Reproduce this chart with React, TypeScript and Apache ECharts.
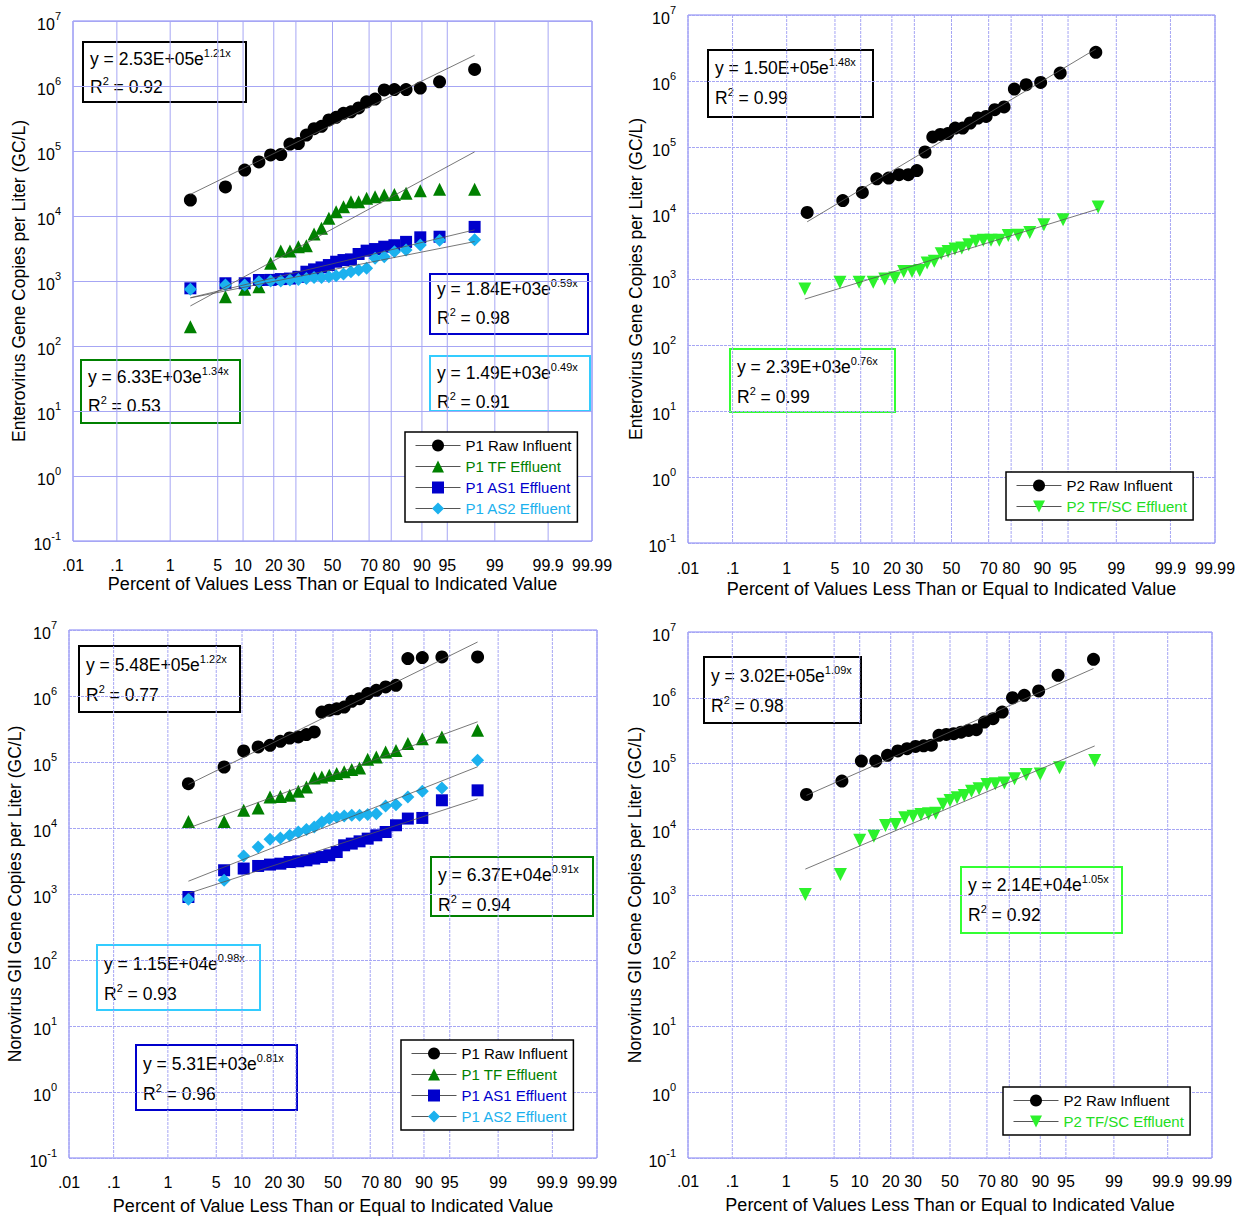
import React, { useEffect, useRef } from 'react';
import * as echarts from 'echarts';

const FONT = '"Liberation Sans", Arial, Helvetica, sans-serif';

// ---------- axis ticks ----------
const PCT_LABELS = ['.01', '.1', '1', '5', '10', '20', '30', '50', '70', '80', '90', '95', '99', '99.9', '99.99'];
const PCT_VALUES = [0.01, 0.1, 1, 5, 10, 20, 30, 50, 70, 80, 90, 95, 99, 99.9, 99.99];

// ---------- data (sorted concentrations, GC/L) ----------
// Enterovirus, plant P1
const tlRaw = [1.76e4, 2.8e4, 5.1e4, 6.8e4, 8.7e4, 8.8e4, 1.28e5, 1.3e5, 1.76e5, 2.2e5, 2.4e5, 3.0e5, 3.3e5, 3.8e5, 4.0e5, 4.6e5, 5.7e5, 6.3e5, 8.7e5, 8.8e5, 8.8e5, 9.3e5, 1.16e6, 1.8e6];
const tlTF = [198, 574, 745, 818, 1870, 2900, 2900, 3370, 3500, 5300, 6500, 9200, 11600, 13900, 16600, 16600, 18700, 19800, 21000, 21500, 22300, 24500, 25700, 25700];
const tlAS1 = [772, 923, 923, 1036, 1040, 1070, 1090, 1160, 1390, 1510, 1620, 1760, 1980, 2100, 2150, 2600, 2930, 3100, 3370, 3550, 4000, 4700, 4800, 6800];
const tlAS2 = [745, 867, 867, 975, 1000, 1000, 1036, 1050, 1090, 1130, 1130, 1160, 1200, 1280, 1390, 1480, 1570, 2230, 2370, 2830, 3000, 3580, 4250, 4300];
// Enterovirus, plant P2
const trRaw = [1.02e4, 1.54e4, 2.05e4, 3.3e4, 3.39e4, 3.8e4, 3.8e4, 4.4e4, 8.4e4, 1.42e5, 1.55e5, 1.6e5, 1.94e5, 1.94e5, 2.31e5, 2.75e5, 2.91e5, 3.67e5, 4.04e5, 7.56e5, 8.8e5, 9.5e5, 1.32e6, 2.72e6];
const trTF = [705, 889, 889, 889, 1000, 1040, 1300, 1300, 1350, 1750, 1850, 2420, 2620, 2850, 2950, 3310, 3720, 3850, 3850, 3850, 4550, 4600, 5080, 6650, 7900, 12300];
// Norovirus GII, plant P1
const blRaw = [4.7e4, 8.4e4, 1.47e5, 1.69e5, 1.79e5, 2.06e5, 2.31e5, 2.4e5, 2.6e5, 2.85e5, 5.7e5, 6.1e5, 6.4e5, 6.8e5, 8.3e5, 9.1e5, 1.09e6, 1.22e6, 1.37e6, 1.45e6, 3.69e6, 3.82e6, 3.9e6, 3.9e6];
const blTF = [1.26e4, 1.26e4, 1.85e4, 2.01e4, 2.95e4, 3.0e4, 3.13e4, 3.6e4, 4.18e4, 5.7e4, 5.9e4, 6.3e4, 6.7e4, 7.1e4, 7.7e4, 8.1e4, 1.1e5, 1.19e5, 1.42e5, 1.5e5, 1.9e5, 2.26e5, 2.4e5, 3.02e5];
const blAS1 = [900, 2290, 2430, 2660, 2790, 2880, 3050, 3130, 3240, 3440, 3630, 3860, 4330, 5470, 5800, 6280, 6900, 7750, 8700, 11000, 13900, 14200, 26300, 37200];
const blAS2 = [832, 1610, 3770, 5150, 6740, 7060, 7750, 8700, 9450, 10400, 12300, 13900, 14700, 15200, 15600, 15600, 16000, 16500, 21500, 22600, 29500, 36000, 40400, 106000];
// Norovirus GII, plant P2
const brRaw = [3.39e4, 5.4e4, 1.09e5, 1.09e5, 1.33e5, 1.55e5, 1.68e5, 1.82e5, 1.86e5, 1.9e5, 2.68e5, 2.77e5, 2.84e5, 3.0e5, 3.19e5, 3.27e5, 4.27e5, 4.8e5, 6.05e5, 1.0e6, 1.09e6, 1.27e6, 2.19e6, 3.84e6];
const brTF = [1020, 2050, 6800, 7800, 11400, 11800, 15000, 15700, 16800, 17200, 17500, 24000, 27400, 30100, 32700, 38000, 41300, 48100, 49200, 50300, 58700, 68200, 69000, 86000, 111000];

// fitted trend lines y = a * e^(b x), with R^2
const FIT_TL = { raw: [2.53e5, 1.21, '0.92'], tf: [6.33e3, 1.34, '0.53'], as1: [1.84e3, 0.59, '0.98'], as2: [1.49e3, 0.49, '0.91'] };
const FIT_TR = { raw: [1.50e5, 1.48, '0.99'], tf: [2.39e3, 0.76, '0.99'] };
const FIT_BL = { raw: [5.48e5, 1.22, '0.77'], tf: [6.37e4, 0.91, '0.94'], as2: [1.15e4, 0.98, '0.93'], as1: [5.31e3, 0.81, '0.96'] };
const FIT_BR = { raw: [3.02e5, 1.09, '0.98'], tf: [2.14e4, 1.05, '0.92'] };

// ---------- helpers ----------
function probit(p: number): number {
  const a = [-3.969683028665376e1, 2.209460984245205e2, -2.759285104469687e2, 1.38357751867269e2, -3.066479806614716e1, 2.506628277459239];
  const b = [-5.447609879822406e1, 1.615858368580409e2, -1.556989798598866e2, 6.680131188771972e1, -1.328068155288572e1];
  const c = [-7.784894002430293e-3, -3.223964580411365e-1, -2.400758277161838, -2.549732539343734, 4.374664141464968, 2.938163982698783];
  const d = [7.784695709041462e-3, 3.224671290700398e-1, 2.445134137142996, 3.754408661907416];
  const plow = 0.02425;
  if (p < plow) {
    const q = Math.sqrt(-2 * Math.log(p));
    return (((((c[0] * q + c[1]) * q + c[2]) * q + c[3]) * q + c[4]) * q + c[5]) / ((((d[0] * q + d[1]) * q + d[2]) * q + d[3]) * q + 1);
  }
  if (p <= 1 - plow) {
    const q = p - 0.5;
    const r = q * q;
    return ((((((a[0] * r + a[1]) * r + a[2]) * r + a[3]) * r + a[4]) * r + a[5]) * q) / (((((b[0] * r + b[1]) * r + b[2]) * r + b[3]) * r + b[4]) * r + 1);
  }
  const q = Math.sqrt(-2 * Math.log(1 - p));
  return -(((((c[0] * q + c[1]) * q + c[2]) * q + c[3]) * q + c[4]) * q + c[5]) / ((((d[0] * q + d[1]) * q + d[2]) * q + d[3]) * q + 1);
}

const TICK_Z = PCT_VALUES.map((p) => probit(p / 100));
const Z_MIN = TICK_Z[0];
const Z_MAX = TICK_Z[TICK_Z.length - 1];

const positions = (n: number) => Array.from({ length: n }, (_, i) => probit((i + 0.5) / n));

const STYLE: Record<string, any> = {
  raw: { symbol: 'circle', color: '#000000', text: '#000000', size: 13, rotate: 0 },
  tf: { symbol: 'triangle', color: '#008000', text: '#008000', size: 13, rotate: 0 },
  as1: { symbol: 'rect', color: '#0000cc', text: '#0000cc', size: 12, rotate: 0 },
  as2: { symbol: 'diamond', color: '#1bb1ee', text: '#1bb1ee', size: 13, rotate: 0 },
  tfsc: { symbol: 'triangle', color: '#2cf22c', text: '#22dd22', size: 13, rotate: 180 },
};

const GRID_COLOR = '#a6a6f4';
const FRAME_COLOR = '#8080f4';

// box: [x, y, width, height, first text line centre, line spacing]
type SDef = { name: string; values: number[]; style: string; fit: any[]; box: number[]; boxColor: string };
type Panel = {
  grid: { left: number; top: number; width: number; height: number };
  yName: string; xName: string; yGap: number; xGap: number; labelMargin: number;
  dashed: boolean; legend: { left: number; top: number };
  series: SDef[];
};

const PANELS: Panel[] = [
  {
    grid: { left: 73, top: 21, width: 519, height: 520 },
    yName: 'Enterovirus Gene Copies per Liter (GC/L)',
    xName: 'Percent of Values Less Than or Equal to Indicated Value',
    yGap: 45, xGap: 34, labelMargin: 16, dashed: false,
    legend: { left: 405, top: 432 },
    series: [
      { name: 'P1 Raw Influent', values: tlRaw, style: 'raw', fit: FIT_TL.raw, box: [83, 42, 163, 60, 59, 28], boxColor: '#000000' },
      { name: 'P1 TF Effluent', values: tlTF, style: 'tf', fit: FIT_TL.tf, box: [81, 360, 159, 63, 377, 29], boxColor: '#008000' },
      { name: 'P1 AS1 Effluent', values: tlAS1, style: 'as1', fit: FIT_TL.as1, box: [430, 274, 158, 60, 289, 29], boxColor: '#0000cc' },
      { name: 'P1 AS2 Effluent', values: tlAS2, style: 'as2', fit: FIT_TL.as2, box: [430, 356, 160, 55, 373, 29], boxColor: '#33ccff' },
    ],
  },
  {
    grid: { left: 688, top: 15, width: 527, height: 528 },
    yName: 'Enterovirus Gene Copies per Liter (GC/L)',
    xName: 'Percent of Values Less Than or Equal to Indicated Value',
    yGap: 43, xGap: 37, labelMargin: 17, dashed: true,
    legend: { left: 1006, top: 472 },
    series: [
      { name: 'P2 Raw Influent', values: trRaw, style: 'raw', fit: FIT_TR.raw, box: [708, 50, 165, 67, 68, 30], boxColor: '#000000' },
      { name: 'P2 TF/SC Effluent', values: trTF, style: 'tfsc', fit: FIT_TR.tf, box: [730, 349, 165, 63, 367, 30], boxColor: '#33ff33' },
    ],
  },
  {
    grid: { left: 69, top: 630, width: 528, height: 528 },
    yName: 'Norovirus GII Gene Copies per Liter (GC/L)',
    xName: 'Percent of Value Less Than or Equal to Indicated Value',
    yGap: 45, xGap: 39, labelMargin: 16, dashed: true,
    legend: { left: 401, top: 1040 },
    series: [
      { name: 'P1 Raw Influent', values: blRaw, style: 'raw', fit: FIT_BL.raw, box: [79, 646, 161, 66, 665, 30], boxColor: '#000000' },
      { name: 'P1 TF Effluent', values: blTF, style: 'tf', fit: FIT_BL.tf, box: [431, 857, 162, 59, 875, 30], boxColor: '#008000' },
      { name: 'P1 AS1 Effluent', values: blAS1, style: 'as1', fit: FIT_BL.as1, box: [136, 1045, 161, 65, 1064, 30], boxColor: '#0000cc' },
      { name: 'P1 AS2 Effluent', values: blAS2, style: 'as2', fit: FIT_BL.as2, box: [97, 945, 163, 65, 964, 30], boxColor: '#33ccff' },
    ],
  },
  {
    grid: { left: 688, top: 632, width: 524, height: 526 },
    yName: 'Norovirus GII Gene Copies per Liter (GC/L)',
    xName: 'Percent of Values Less Than or Equal to Indicated Value',
    yGap: 44, xGap: 38, labelMargin: 15, dashed: true,
    legend: { left: 1003, top: 1087 },
    series: [
      { name: 'P2 Raw Influent', values: brRaw, style: 'raw', fit: FIT_BR.raw, box: [704, 657, 157, 66, 676, 30], boxColor: '#000000' },
      { name: 'P2 TF/SC Effluent', values: brTF, style: 'tfsc', fit: FIT_BR.tf, box: [961, 867, 161, 66, 885, 30], boxColor: '#33ff33' },
    ],
  },
];

function eqText(a: number, b: number) {
  const e = Math.floor(Math.log10(a));
  const m = (a / Math.pow(10, e)).toFixed(2);
  return `{a|y = ${m}E+${String(e).padStart(2, '0')}e}{s|${b.toFixed(2)}x}`;
}

const EQ_RICH = {
  a: { fontSize: 17.5, fontFamily: FONT, fill: '#000', lineHeight: 24, verticalAlign: 'middle' },
  s: { fontSize: 11, fontFamily: FONT, fill: '#000', lineHeight: 18, verticalAlign: 'top' },
};

function buildOption() {
  const grids: any[] = [];
  const xAxes: any[] = [];
  const yAxes: any[] = [];
  const series: any[] = [];
  const legends: any[] = [];
  const graphics: any[] = [];

  PANELS.forEach((p, i) => {
    grids.push({ ...p.grid, show: true, borderColor: FRAME_COLOR, borderWidth: 1, backgroundColor: 'transparent', containLabel: false });
    xAxes.push({
      type: 'value', gridIndex: i, min: Z_MIN, max: Z_MAX,
      axisLine: { show: false }, axisTick: { show: false, customValues: TICK_Z },
      splitLine: { show: false },
      axisLabel: {
        customValues: TICK_Z, margin: p.labelMargin, fontSize: 16, fontFamily: FONT, color: '#000',
        formatter: (v: number) => {
          const k = TICK_Z.findIndex((z) => Math.abs(z - v) < 1e-6);
          return k >= 0 ? PCT_LABELS[k] : '';
        },
      },
      name: p.xName, nameLocation: 'middle', nameGap: p.xGap,
      nameTextStyle: { fontSize: 18, fontFamily: FONT, color: '#000' },
    });
    yAxes.push({
      type: 'log', gridIndex: i, logBase: 10, min: 0.1, max: 1e7, splitNumber: 8,
      axisLine: { show: false }, axisTick: { show: false },
      splitLine: { show: true, lineStyle: { color: GRID_COLOR, width: 1, type: p.dashed ? [3, 1] : 'solid' } },
      axisLabel: {
        margin: 12,
        formatter: (v: number) => `{b|10}{s|${Math.round(Math.log10(v))}}`,
        rich: {
          b: { fontSize: 16, fontFamily: FONT, color: '#000', lineHeight: 22, verticalAlign: 'bottom' },
          s: { fontSize: 11, fontFamily: FONT, color: '#000', lineHeight: 12, verticalAlign: 'top' },
        },
      },
      name: p.yName, nameLocation: 'middle', nameGap: p.yGap,
      nameTextStyle: { fontSize: 17.5, fontFamily: FONT, color: '#000' },
    });

    // vertical probability grid lines
    series.push({
      type: 'custom', xAxisIndex: i, yAxisIndex: i, silent: true, z: 0,
      data: TICK_Z.map((z) => [z, 1]),
      renderItem: (params: any, api: any) => {
        const x = api.coord([api.value(0), 1])[0];
        const cs = params.coordSys;
        return {
          type: 'line',
          shape: { x1: x, y1: cs.y, x2: x, y2: cs.y + cs.height },
          style: { stroke: GRID_COLOR, lineWidth: 1, lineDash: p.dashed ? [3, 1] : null },
        };
      },
    });

    p.series.forEach((s) => {
      const st = STYLE[s.style];
      const zs = positions(s.values.length);
      series.push({
        name: s.name, type: 'line', xAxisIndex: i, yAxisIndex: i,
        data: s.values.map((v, k) => [zs[k], v]),
        symbol: st.symbol, symbolSize: st.size, symbolRotate: st.rotate,
        showSymbol: true, showAllSymbol: true,
        itemStyle: { color: st.color },
        lineStyle: { width: 0, opacity: 0 },
        emphasis: { disabled: true }, z: 2,
      });
    });
    p.series.forEach((s) => {
      const zs = positions(s.values.length);
      const [a, b] = s.fit as [number, number];
      const z0 = zs[0];
      const z1 = zs[zs.length - 1];
      series.push({
        type: 'line', xAxisIndex: i, yAxisIndex: i, silent: true, z: 3,
        data: [[z0, a * Math.exp(b * z0)], [z1, a * Math.exp(b * z1)]],
        symbol: 'none', lineStyle: { color: '#555', width: 0.8 },
        emphasis: { disabled: true },
      });
    });

    legends.push({
      orient: 'vertical', left: p.legend.left, top: p.legend.top,
      padding: [6, 6, 6, 10], itemWidth: 45, itemHeight: 15, itemGap: 6,
      backgroundColor: '#fff', borderColor: '#000', borderWidth: 1.5, borderRadius: 0,
      selectedMode: false,
      textStyle: { fontSize: 15, fontFamily: FONT },
      lineStyle: { color: '#555', width: 1, opacity: 1, type: 'solid' },
      data: p.series.map((s) => ({ name: s.name, textStyle: { color: STYLE[s.style].text } })),
    });

    p.series.forEach((s) => {
      const [bx, by, bw, bh, l1, gap] = s.box;
      const [a, b, r2] = s.fit as [number, number, string];
      graphics.push({
        type: 'group', z: 10,
        children: [
          { type: 'rect', shape: { x: bx, y: by, width: bw, height: bh }, style: { fill: '#fff', stroke: s.boxColor, lineWidth: 2 } },
          { type: 'text', x: bx + 7, y: l1, style: { text: eqText(a, b), rich: EQ_RICH, verticalAlign: 'middle', align: 'left' } },
          { type: 'text', x: bx + 7, y: l1 + gap, style: { text: `{a|R}{s|2}{a| = ${r2}}`, rich: EQ_RICH, verticalAlign: 'middle', align: 'left' } },
        ],
      });
    });
  });

  return {
    animation: false,
    backgroundColor: '#fff',
    grid: grids,
    xAxis: xAxes,
    yAxis: yAxes,
    legend: legends,
    series,
    graphic: graphics,
  };
}

export default function App() {
  const ref = useRef<HTMLDivElement>(null);
  useEffect(() => {
    document.body.style.margin = '0';
    const chart = echarts.init(ref.current as HTMLDivElement, null, { renderer: 'svg' });
    chart.setOption(buildOption() as any);
    return () => chart.dispose();
  }, []);
  return <div ref={ref} style={{ width: 1250, height: 1219, background: '#fff' }} />;
}
